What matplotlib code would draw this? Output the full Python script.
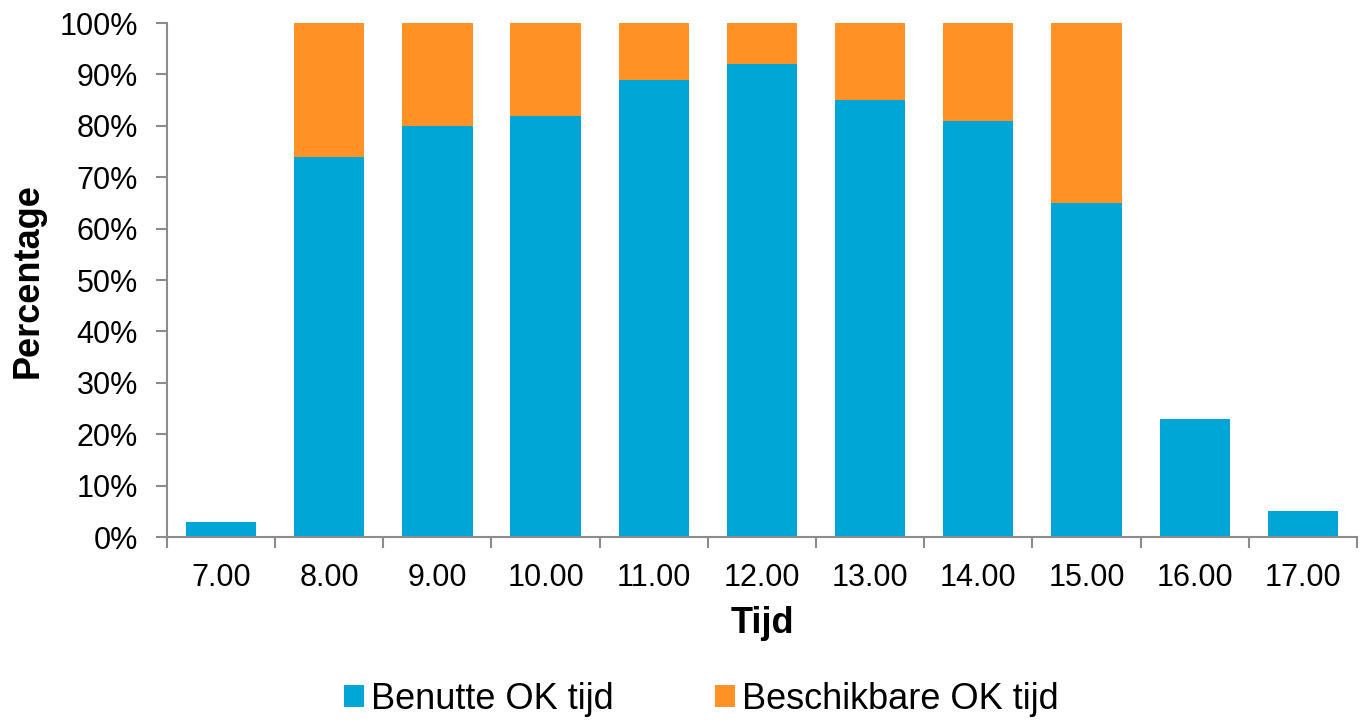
import matplotlib
matplotlib.use("Agg")
import matplotlib.pyplot as plt
import numpy as np
from matplotlib.ticker import PercentFormatter

plt.rcParams["font.family"] = ["Liberation Sans", "DejaVu Sans"]

# data (percent)
times = ["7.00", "8.00", "9.00", "10.00", "11.00", "12.00", "13.00", "14.00", "15.00", "16.00", "17.00"]
benutte = [3, 74, 80, 82, 89, 92, 85, 81, 65, 23, 5]
beschikbaar = [0, 26, 20, 18, 11, 8, 15, 19, 35, 0, 0]

BLUE = "#00A6D6"
ORANGE = "#FF9125"
GREY = "#8c8c8c"

fig = plt.figure(figsize=(13.65, 7.22), dpi=100)
ax = fig.add_axes([0.1223, 0.2562, 0.8718, 0.7118])

x = np.arange(len(times))
ax.bar(x, benutte, width=0.65, color=BLUE, label="Benutte OK tijd")
ax.bar(x, beschikbaar, width=0.65, bottom=benutte, color=ORANGE, label="Beschikbare OK tijd")

ax.set_xlim(-0.5, len(times) - 0.5)
ax.set_ylim(0, 100)
ax.set_yticks(np.arange(0, 101, 10))
ax.yaxis.set_major_formatter(PercentFormatter(decimals=0))

# ticks at category boundaries, labels at centres
ax.set_xticks(np.arange(-0.5, len(times), 1))
ax.set_xticklabels([])
ax.set_xticks(x, minor=True)
ax.set_xticklabels(times, minor=True)
ax.tick_params(axis="x", which="major", length=8, width=1.5, color=GREY, direction="out")
ax.tick_params(axis="x", which="minor", length=0, labelsize=22, pad=19)
ax.tick_params(axis="y", length=8, width=1.5, color=GREY, labelsize=22, pad=13)

for s in ["top", "right"]:
    ax.spines[s].set_visible(False)
for s in ["left", "bottom"]:
    ax.spines[s].set_color(GREY)
    ax.spines[s].set_linewidth(1.5)

ax.set_xlabel("Tijd", fontsize=26, fontweight="bold", labelpad=9)
ax.set_ylabel("Percentage", fontsize=26, fontweight="bold", labelpad=10)

fig.legend(loc="lower center", bbox_to_anchor=(0.514, -0.038), ncol=2, frameon=False,
           fontsize=26, handlelength=0.55, handleheight=0.55, handletextpad=0.2,
           columnspacing=2.8)

plt.savefig("out.png", dpi=100)
plt.close()
